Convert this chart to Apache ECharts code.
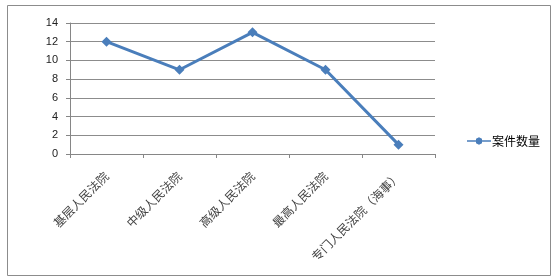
<!DOCTYPE html>
<html>
<head>
<meta charset="utf-8">
<script src="https://cdn.jsdelivr.net/npm/echarts@6/dist/echarts.min.js"></script>
<style>
html,body{margin:0;padding:0;background:#fff;}
#c{width:555px;height:277px;}
</style>
</head>
<body>
<div id="c"></div>
<script>
var categories = ['基层人民法院','中级人民法院','高级人民法院','最高人民法院','专门人民法院（海事）'];
var caseCounts = [12, 9, 13, 9, 1];
var seriesName = '案件数量';

var chart = echarts.init(document.getElementById('c'), null, {renderer:'canvas'});
chart.setOption({
  animation:false,
  backgroundColor:'#fff',
  graphic:[{
    type:'rect', left:5, top:3, shape:{width:543, height:270},
    style:{fill:'none', stroke:'#8c8c8c', lineWidth:1}, silent:true
  }],
  grid:{left:70, right:120, top:23, bottom:123, containLabel:false},
  legend:{
    data:[{name:seriesName, icon:'path://M0,4L12,4L12,2L16,0L20,2L20,4L32,4L32,6L20,6L20,8L16,10L12,8L12,6L0,6Z'}],
    orient:'vertical', left:462, top:130,
    itemWidth:24, itemHeight:8, itemGap:4,
    textStyle:{fontSize:12, color:'#000', fontFamily:'"Noto Sans CJK SC", sans-serif', padding:[0,0,0,-4]}
  },
  xAxis:{
    type:'category', data:categories, boundaryGap:true,
    axisLine:{lineStyle:{color:'#868686', width:1}},
    axisTick:{show:true, length:4, inside:false, alignWithLabel:false, lineStyle:{color:'#868686'}},
    axisLabel:{rotate:45, interval:0, margin:20, fontSize:12, color:'#444', fontFamily:'"Noto Sans CJK SC", serif'}
  },
  yAxis:{
    type:'value', min:0, max:14, interval:2,
    axisLine:{show:true, lineStyle:{color:'#868686', width:1}},
    axisTick:{show:true, length:4, lineStyle:{color:'#868686'}},
    splitLine:{lineStyle:{color:'#8c8c8c', width:1}},
    axisLabel:{fontSize:11, color:'#222', margin:12, fontFamily:'"Liberation Sans", Arial, sans-serif'}
  },
  series:[{
    name:seriesName, type:'line', data:caseCounts,
    symbol:'diamond', symbolSize:10,
    lineStyle:{color:'#4a7ebb', width:3},
    itemStyle:{color:'#4a7ebb'}
  }]
});
</script>
</body>
</html>
